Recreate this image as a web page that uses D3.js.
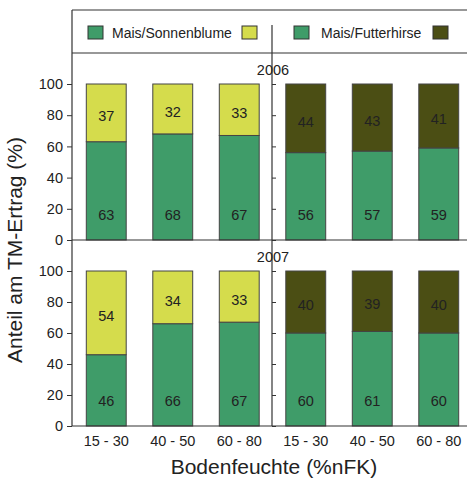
<!DOCTYPE html>
<html>
<head>
<meta charset="utf-8">
<script src="https://cdn.jsdelivr.net/npm/d3@7"></script>
<style>
  body { margin: 0; background: #fff; }
  svg { display: block; font-family: "Liberation Sans", Arial, sans-serif; }
  text { fill: #222; }
</style>
</head>
<body>
<svg id="chart" width="467" height="479"></svg>
<script>
// categories: soil moisture classes, twice (one set per mixture)
const CLASSES = ['15 - 30', '40 - 50', '60 - 80'];
const MIXES = ['Mais/Sonnenblume', 'Mais/Futterhirse'];
const YEARS = ['2006', '2007'];

// maize share (%) per year, mixture, class
const MAIS_2006 = [63, 68, 67, 56, 57, 59];
const PARTNER_2006 = [37, 32, 33, 44, 43, 41];
const MAIS_2007 = [46, 66, 67, 60, 61, 60];
const PARTNER_2007 = [54, 34, 33, 40, 39, 40];

const Y_TICKS = [0, 20, 40, 60, 80, 100];

const GREEN = '#3f9c69', YELLOW = '#d5dc4c', OLIVE = '#4b4e14';
const PARTNER_COLORS = [YELLOW, YELLOW, YELLOW, OLIVE, OLIVE, OLIVE];

const svg = d3.select('#chart');
const X0 = 72, XM = 272, XR = 467;
const keys = d3.range(6);

const x = d3.scaleBand().domain(keys).range([73, 472]).paddingInner(0.4).paddingOuter(0.2);

const panels = [
  { year: YEARS[0], mais: MAIS_2006, partner: PARTNER_2006, y: d3.scaleLinear().domain([0, 100]).range([240, 84]) },
  { year: YEARS[1], mais: MAIS_2007, partner: PARTNER_2007, y: d3.scaleLinear().domain([0, 100]).range([426, 271]) }
];

// --- frame ---
const line = (x1, y1, x2, y2) => svg.append('line')
  .attr('x1', x1).attr('y1', y1).attr('x2', x2).attr('y2', y2)
  .attr('stroke', '#333').attr('stroke-width', 1.2);
line(X0, 10, XR, 10);
line(X0, 53, XR, 53);
line(X0, 10, X0, 426);
line(XM, 25, XM, 426);

// --- legend ---
const legend = [
  { x: 88, fill: GREEN }, { x: 242, fill: YELLOW },
  { x: 294, fill: GREEN }, { x: 433, fill: OLIVE }
];
svg.selectAll('rect.leg').data(legend).join('rect')
  .attr('class', 'leg')
  .attr('x', d => d.x).attr('y', 26).attr('width', 15).attr('height', 13)
  .attr('fill', d => d.fill).attr('stroke', '#333').attr('stroke-width', 1);
svg.selectAll('text.leg').data(MIXES).join('text')
  .attr('class', 'leg')
  .attr('x', (d, i) => i === 0 ? 112 : 321).attr('y', 38)
  .attr('font-size', 14).text(d => d);

// --- panels ---
panels.forEach((p, pi) => {
  const g = svg.append('g');
  const y = p.y;

  // baseline across
  line(X0, y(0), XR, y(0));

  g.append('g').attr('transform', `translate(${X0},0)`)
    .call(d3.axisLeft(y).tickValues(Y_TICKS).tickSize(5).tickPadding(4))
    .call(a => a.select('.domain').remove())
    .call(a => a.selectAll('line').attr('stroke', '#333'))
    .call(a => a.selectAll('text').attr('font-size', 14.5).attr('fill', '#222').attr('font-family', null));

  g.append('g').attr('transform', `translate(${XM},0)`)
    .call(d3.axisRight(y).tickValues(Y_TICKS).tickSize(4).tickFormat(''))
    .call(a => a.select('.domain').remove())
    .call(a => a.selectAll('line').attr('stroke', '#333'));

  // maize (bottom)
  g.selectAll('rect.m').data(keys).join('rect')
    .attr('class', 'm')
    .attr('x', i => x(i)).attr('width', x.bandwidth())
    .attr('y', i => y(p.mais[i])).attr('height', i => y(0) - y(p.mais[i]))
    .attr('fill', GREEN).attr('stroke', '#444').attr('stroke-width', 1);
  // partner (top)
  g.selectAll('rect.p').data(keys).join('rect')
    .attr('class', 'p')
    .attr('x', i => x(i)).attr('width', x.bandwidth())
    .attr('y', i => y(100)).attr('height', i => y(p.mais[i]) - y(100))
    .attr('fill', i => PARTNER_COLORS[i]).attr('stroke', '#444').attr('stroke-width', 1);

  g.selectAll('text.m').data(keys).join('text')
    .attr('class', 'm')
    .attr('x', i => x(i) + x.bandwidth() / 2).attr('y', y(16)).attr('dy', '0.35em')
    .attr('text-anchor', 'middle').attr('font-size', 14.5)
    .text(i => p.mais[i]);
  g.selectAll('text.p').data(keys).join('text')
    .attr('class', 'p')
    .attr('x', i => x(i) + x.bandwidth() / 2)
    .attr('y', i => y(p.mais[i] + p.partner[i] / 2 - 2)).attr('dy', '0.35em')
    .attr('text-anchor', 'middle').attr('font-size', 14.5)
    .text(i => p.partner[i]);

  svg.append('text')
    .attr('x', XM + 1).attr('y', y(100) - 9)
    .attr('text-anchor', 'middle').attr('font-size', 14.5)
    .text(p.year);
});

// --- x tick labels ---
svg.selectAll('text.xt').data(keys).join('text')
  .attr('class', 'xt')
  .attr('x', i => x(i) + x.bandwidth() / 2).attr('y', 446)
  .attr('text-anchor', 'middle').attr('font-size', 14.5)
  .text(i => CLASSES[i % 3]);

// --- axis titles ---
svg.append('text')
  .attr('x', XM + 2).attr('y', 474)
  .attr('text-anchor', 'middle').attr('font-size', 21)
  .text('Bodenfeuchte (%nFK)');
svg.append('text')
  .attr('transform', 'translate(22,250) rotate(-90)')
  .attr('text-anchor', 'middle').attr('font-size', 21)
  .text('Anteil am TM-Ertrag (%)');
</script>
</body>
</html>
